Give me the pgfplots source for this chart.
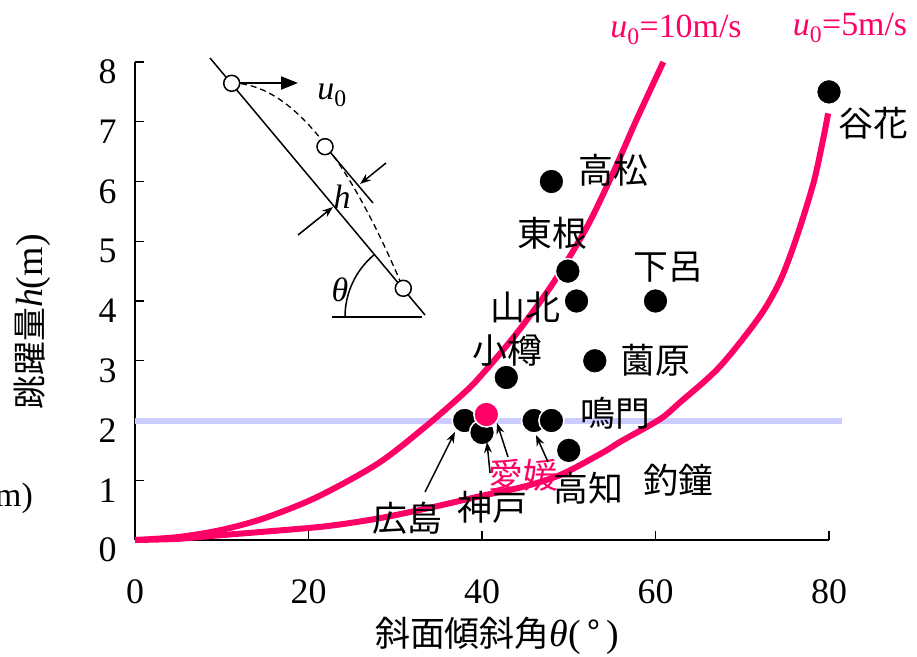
\documentclass[border=0pt]{standalone}
\usepackage{pgfplots}
\pgfplotsset{compat=1.18}
\usepackage{fontspec}
\setmainfont{Liberation Serif}
\newfontfamily\cjk{Noto Sans CJK JP}
\usetikzlibrary{arrows.meta}
\definecolor{pk}{RGB}{255,0,102}
\definecolor{lb}{RGB}{204,204,255}
\begin{document}
\begin{tikzpicture}
\begin{axis}[at={(0,0)},anchor=south west,
  width=694bp,height=478bp,scale only axis,
  xmin=0,xmax=80,ymin=0,ymax=8,
  axis x line*=bottom, axis y line*=left,
  axis line style={line width=1.2bp,-},
  xtick={0,20,40,60,80}, ytick={0,1,2,3,4,5,6,7,8},
  tick align=inside, major tick length=9bp,
  tick style={line width=1.2bp,black},
  ticklabel style={font=\fontsize{36}{40}\selectfont},
  xticklabel style={yshift=-36bp},
  yticklabel style={xshift=-15bp,yshift=-10bp},
  /pgf/number format/assume math mode=true,
  clip=false]
% 2 m reference line
\addplot[draw=lb, line width=6bp] coordinates {(0,2) (81.5,2)};
% observed points
\addplot[only marks, mark=*, mark size=12.5bp, mark options={fill=black, draw=white, line width=1.5bp}]
 coordinates {(48,6) (49.9,4.5) (50.9,4) (60,4) (53,3) (42.8,2.72) (38,2) (40,1.8) (46,2) (48,2) (50,1.5) (80,7.5)};
% u0 = 10 m/s
\addplot[draw=pk, line width=6bp, line join=round, smooth, tension=0.5]
 coordinates {(0,0) (5,0.05) (10,0.17) (15,0.37) (21,0.72) (28,1.28) (33.5,1.9) (38,2.47) (40,2.77) (44,3.46) (48.2,4.3) (52.1,5.24) (55.1,6.14) (57.8,7.03) (60.9,8.0)};
% u0 = 5 m/s
\addplot[draw=pk, line width=6bp, line join=round, smooth, tension=0.5]
 coordinates {(0,0) (5,0.02) (9.8,0.08) (15,0.14) (22,0.23) (28,0.36) (34,0.54) (40,0.74) (45,0.9) (49.2,1.1) (54,1.47) (56,1.65) (60.5,2.02) (62.8,2.3) (67.4,2.9) (72,3.74) (74.4,4.35) (76.3,5.08) (78.2,5.97) (79.3,6.69) (79.9,7.14)};
% Ehime
\addplot[only marks, mark=*, mark size=12.5bp, mark options={fill=pk, draw=white, line width=1.5bp}]
 coordinates {(40.5,2.1)};
\end{axis}
\begin{scope}[x=1bp,y=-1bp,shift={(-135bp,540bp)},
  lab/.style={font=\cjk\fontsize{35}{40}\selectfont, inner sep=0pt},
  lat/.style={font=\fontsize{34}{40}\selectfont, inner sep=0pt},
  arr/.style={line width=1.5bp,-{Stealth[length=11bp,width=8bp]}}]
% point labels
\node[lab] at (613,170) {高松};
\node[lab] at (552,233) {東根};
\node[lab] at (668,267) {下呂};
\node[lab] at (525,307) {山北};
\node[lab] at (507,350) {小樽};
\node[lab] at (655,360) {薗原};
\node[lab] at (615,413) {鳴門};
\node[lab,text=pk] at (523,475) {愛媛};
\node[lab] at (588,488) {高知};
\node[lab] at (678,480) {釣鐘};
\node[lab] at (492,507) {神戸};
\node[lab] at (407,518) {広島};
\node[lab] at (873,123) {谷花};
% pointer arrows
\draw[arr] (425,492) -- (455,432);
\draw[arr] (490,473) -- (487,442);
\draw[arr] (508,457) -- (497,423);
\draw[arr] (548,462) -- (536,435);
% curve labels
\node[lat,text=pk] at (676,30) {\textit{u}\textsubscript{0}=10m/s};
\node[lat,text=pk] at (850,28) {\textit{u}\textsubscript{0}=5m/s};
% axis labels
\node[inner sep=0pt, font=\cjk\fontsize{35}{40}\selectfont] at (497,636)
  {斜面傾斜角{\rmfamily\fontsize{38}{42}\selectfont\textit{θ}(\,}°{\rmfamily\fontsize{38}{42}\selectfont\,)}};
\node[inner sep=0pt, rotate=90, font=\cjk\fontsize{34}{38}\selectfont] at (32,322)
  {跳躍量{\rmfamily\fontsize{38}{42}\selectfont\textit{h}(m)}};
\node[inner sep=0pt,anchor=east,font=\fontsize{34}{40}\selectfont] at (33,498) {\textit{h}(m)};
% inset diagram
\draw[line width=1.5bp] (210,58) -- (425,315);
\draw[line width=1.5bp] (330,152) -- (373,203);
\draw[line width=1.5bp] (332,317) -- (422,317);
\draw[line width=1.5bp] (345,317) arc[start angle=180,end angle=130,radius=81bp];
\draw[line width=1.3bp, dash pattern=on 6bp off 4bp] (231,83) .. controls (288.3,83) and (345.7,151.3) .. (403,288);
\draw[line width=2bp,-{Triangle[length=17bp,width=13bp]}] (240,83) -- (298,83);
\draw[arr] (386,163) -- (360,184);
\draw[arr] (298,235) -- (333,207);
\foreach \p in {(231.7,83.3),(325,146.7),(403.3,288.3)}
  \draw[line width=1.5bp, fill=white] \p circle[radius=8bp];
\node[lat] at (332,95) {\textit{u}\textsubscript{0}};
\node[lat] at (342,197) {\textit{h}};
\node[lat] at (340,290) {\textit{θ}};
\pgfresetboundingbox
\path[use as bounding box] (0,0) rectangle (917,657);
\end{scope}
\end{tikzpicture}
\end{document}
